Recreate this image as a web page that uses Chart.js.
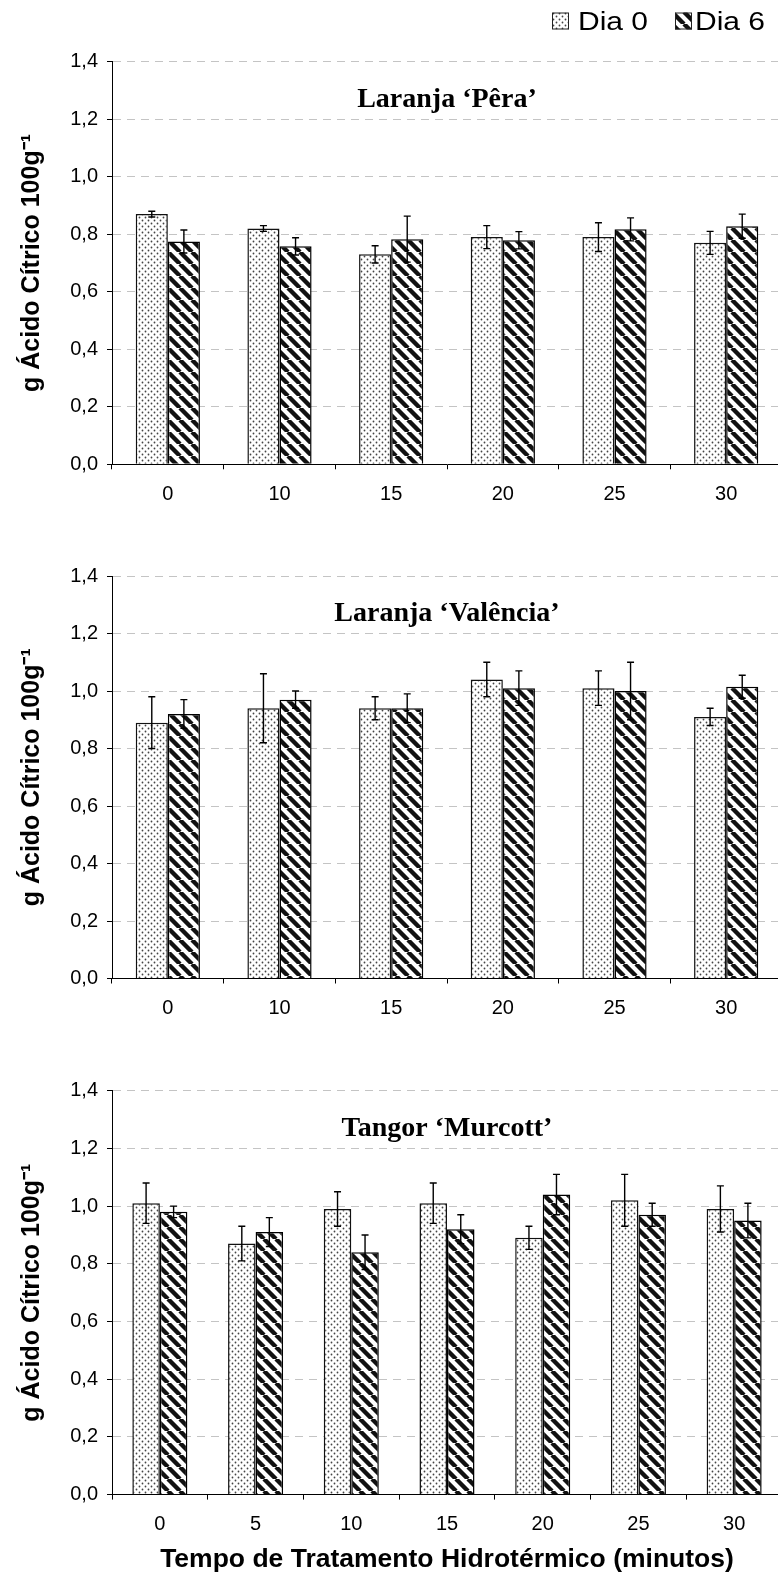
<!DOCTYPE html>
<html>
<head>
<meta charset="utf-8">
<script src="https://cdn.jsdelivr.net/npm/chart.js@4.4.1/dist/chart.umd.min.js"></script>
<style>
html, body { margin: 0; padding: 0; background: #fff; overflow: hidden; width: 778px; height: 1576px; }
.box { position: absolute; left: 0; width: 784px; }
</style>
</head>
<body>
<div class="box" style="top:0;height:520px"><canvas id="c1"></canvas></div>
<div class="box" style="top:520px;height:515px"><canvas id="c2"></canvas></div>
<div class="box" style="top:1035px;height:541px"><canvas id="c3"></canvas></div>
<script>
// dados
const yTicks = ['0,0', '0,2', '0,4', '0,6', '0,8', '1,0', '1,2', '1,4'];
const seriesNames = ['Dia 0', 'Dia 6'];

const tempos1 = ['0', '10', '15', '20', '25', '30'];
const peraDia0 = [0.87, 0.82, 0.73, 0.79, 0.79, 0.77];
const peraDia0Err = [0.01, 0.01, 0.03, 0.04, 0.05, 0.04];
const peraDia6 = [0.775, 0.758, 0.783, 0.779, 0.817, 0.828];
const peraDia6Err = [0.04, 0.03, 0.08, 0.03, 0.04, 0.042];

const valenciaDia0 = [0.89, 0.94, 0.94, 1.04, 1.01, 0.91];
const valenciaDia0Err = [0.09, 0.12, 0.04, 0.06, 0.06, 0.03];
const valenciaDia6 = [0.92, 0.97, 0.94, 1.01, 1.00, 1.015];
const valenciaDia6Err = [0.05, 0.03, 0.05, 0.06, 0.10, 0.04];

const tempos3 = ['0', '5', '10', '15', '20', '25', '30'];
const murcottDia0 = [1.01, 0.87, 0.99, 1.01, 0.89, 1.02, 0.99];
const murcottDia0Err = [0.07, 0.06, 0.06, 0.07, 0.04, 0.09, 0.08];
const murcottDia6 = [0.98, 0.91, 0.84, 0.92, 1.04, 0.97, 0.95];
const murcottDia6Err = [0.02, 0.05, 0.06, 0.05, 0.07, 0.04, 0.06];

const FONT = '"Liberation Sans", Arial, sans-serif';
Chart.defaults.font.family = FONT;
Chart.defaults.color = '#000';

// motivos de preenchimento
function dotPattern() {
    const c = document.createElement('canvas');
    c.width = 6; c.height = 6;
    const g = c.getContext('2d');
    g.fillStyle = '#fff';
    g.fillRect(0, 0, 6, 6);
    g.fillStyle = '#444';
    g.beginPath(); g.arc(1.5, 1.5, 0.9, 0, Math.PI * 2); g.fill();
    g.beginPath(); g.arc(4.5, 4.5, 0.9, 0, Math.PI * 2); g.fill();
    return c.getContext('2d').createPattern(c, 'repeat');
}
function hatchPattern() {
    const s = 12;
    const c = document.createElement('canvas');
    c.width = s; c.height = s;
    const g = c.getContext('2d');
    g.fillStyle = '#fff';
    g.fillRect(0, 0, s, s);
    g.strokeStyle = '#111';
    g.lineWidth = 4.4;
    g.beginPath();
    [-s, 0, s].forEach(k => { g.moveTo(k, 0); g.lineTo(k + s, s); });
    g.stroke();
    return c.getContext('2d').createPattern(c, 'repeat');
}
const fillDia0 = dotPattern();
const fillDia6 = hatchPattern();

// barras de erro
const errorBars = {
    id: 'errorBars',
    afterDatasetsDraw(chart) {
        const ctx = chart.ctx, y = chart.scales.y;
        ctx.save();
        ctx.strokeStyle = '#000';
        ctx.lineWidth = 1.4;
        chart.data.datasets.forEach((ds, i) => {
            chart.getDatasetMeta(i).data.forEach((bar, j) => {
                const v = ds.data[j], e = ds.errors[j];
                const t = y.getPixelForValue(v + e), b = y.getPixelForValue(v - e);
                ctx.beginPath();
                ctx.moveTo(bar.x, t); ctx.lineTo(bar.x, b);
                ctx.moveTo(bar.x - 3.5, t); ctx.lineTo(bar.x + 3.5, t);
                ctx.moveTo(bar.x - 3.5, b); ctx.lineTo(bar.x + 3.5, b);
                ctx.stroke();
            });
        });
        ctx.restore();
    }
};

// titulo dentro do grafico
const panelTitle = {
    id: 'panelTitle',
    afterDraw(chart, args, opts) {
        const ctx = chart.ctx, a = chart.chartArea;
        ctx.save();
        ctx.font = 'bold 28px "Liberation Serif", "Times New Roman", serif';
        ctx.textAlign = 'center';
        ctx.fillStyle = '#000';
        ctx.fillText(opts.text, (a.left + a.right) / 2, a.top + 45);
        ctx.restore();
    }
};

// legenda no canto superior direito
const legendTopRight = {
    id: 'legendTopRight',
    afterDraw(chart, args, opts) {
        if (!opts.show) return;
        const ctx = chart.ctx;
        ctx.save();
        chart.data.datasets.forEach((ds, i) => {
            const bx = opts.boxX[i], by = 12.5;
            ctx.fillStyle = ds.backgroundColor;
            ctx.fillRect(bx, by, 17, 17);
            ctx.strokeStyle = '#222';
            ctx.lineWidth = 1;
            ctx.strokeRect(bx + 0.5, by + 0.5, 16, 16);
            ctx.save();
            ctx.translate(opts.textX[i], 29.5);
            ctx.scale(1.2, 1);
            ctx.font = '25px ' + FONT;
            ctx.fillStyle = '#000';
            ctx.fillText(ds.label, 0, 0);
            ctx.restore();
        });
        ctx.restore();
    }
};

function makeChart(id, labels, d0, e0, d6, e6, title, geo) {
    new Chart(document.getElementById(id), {
        type: 'bar',
        data: {
            labels: labels,
            datasets: [
                { label: seriesNames[0], data: d0, errors: e0, backgroundColor: fillDia0,
                  borderColor: '#111', borderWidth: 1.5, categoryPercentage: 0.575, barPercentage: 1.0 },
                { label: seriesNames[1], data: d6, errors: e6, backgroundColor: fillDia6,
                  borderColor: '#000', borderWidth: 1.5, categoryPercentage: 0.575, barPercentage: 1.0 }
            ]
        },
        options: {
            responsive: true,
            maintainAspectRatio: false,
            animation: false,
            devicePixelRatio: 1,
            layout: { padding: { left: 10, top: geo.padTop, right: 2, bottom: 0 } },
            plugins: {
                legend: { display: false },
                tooltip: { enabled: false },
                panelTitle: { text: title },
                legendTopRight: { show: !!geo.legend, boxX: [552, 675], textX: [578, 695] }
            },
            scales: {
                x: {
                    grid: { display: true, drawOnChartArea: false, drawTicks: true, tickLength: 5, color: '#000', offset: true },
                    border: { display: true, color: '#000', width: 1 },
                    ticks: { color: '#000', font: { size: 20 }, padding: 13, maxRotation: 0 },
                    title: {
                        display: !!geo.xTitle,
                        text: geo.xTitle || '',
                        color: '#000',
                        font: { size: 26.5, weight: 'bold' },
                        padding: { top: 4, bottom: 0 }
                    },
                    afterFit: s => { s.height = geo.xH; }
                },
                y: {
                    min: 0,
                    max: 1.4,
                    ticks: {
                        stepSize: 0.2,
                        color: '#000',
                        font: { size: 20 },
                        padding: 9,
                        callback: (v, i) => yTicks[i]
                    },
                    grid: {
                        color: c => (c.tick && c.tick.value === 0) ? 'rgba(0,0,0,0)' : '#c4c4c4',
                        tickColor: '#000',
                        tickLength: 5,
                        lineWidth: 1
                    },
                    border: { display: true, color: '#000', width: 1, dash: [8, 6] },
                    title: {
                        display: true,
                        text: 'g Ácido Cítrico 100g⁻¹',
                        color: '#000',
                        font: { size: 25, weight: 'bold' },
                        padding: { top: 7, bottom: 0 }
                    },
                    afterFit: s => { s.width = 102; }
                }
            }
        },
        plugins: [errorBars, panelTitle, legendTopRight]
    });
}

makeChart('c1', tempos1, peraDia0, peraDia0Err, peraDia6, peraDia6Err,
    'Laranja \u2018Pêra\u2019', { padTop: 61.7, xH: 55.7, legend: true });
makeChart('c2', tempos1, valenciaDia0, valenciaDia0Err, valenciaDia6, valenciaDia6Err,
    'Laranja \u2018Valência\u2019', { padTop: 56, xH: 56.5 });
makeChart('c3', tempos3, murcottDia0, murcottDia0Err, murcottDia6, murcottDia6Err,
    'Tangor \u2018Murcott\u2019', { padTop: 55.7, xH: 81.4, xTitle: 'Tempo de Tratamento Hidrotérmico (minutos)' });
</script>
</body>
</html>
